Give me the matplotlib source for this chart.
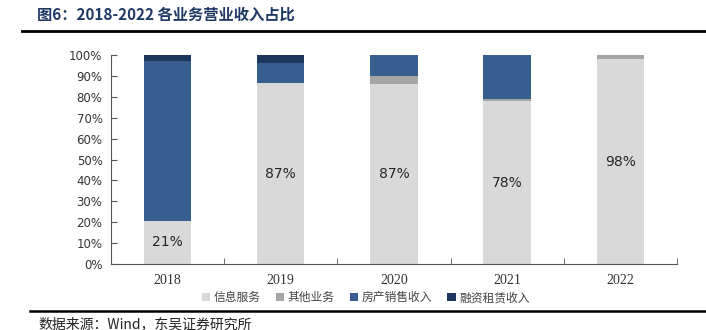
import matplotlib
matplotlib.use("Agg")
import matplotlib.pyplot as plt
from matplotlib.lines import Line2D
import numpy as np

plt.rcParams['font.family'] = ['Noto Sans CJK SC', 'DejaVu Sans']

years = ['2018', '2019', '2020', '2021', '2022']
series_names = ['信息服务', '其他业务', '房产销售收入', '融资租赁收入']
info_service = [20.6, 86.6, 86.3, 77.8, 98.0]
other_biz = [0.0, 0.0, 3.7, 1.3, 2.0]
property_sales = [76.4, 9.6, 10.0, 20.9, 0.0]
leasing = [3.0, 3.8, 0.0, 0.0, 0.0]
labels = ['21%', '87%', '87%', '78%', '98%']

colors = ['#D9D9D9', '#A5A5A5', '#375E8E', '#1C365C']

fig = plt.figure(figsize=(7.06, 3.30), dpi=100)
ax = fig.add_axes([0.157, 0.2, 0.802, 0.633])

x = np.arange(len(years))
bottom = np.zeros(len(years))
for name, vals, c in zip(series_names, [info_service, other_biz, property_sales, leasing], colors):
    ax.bar(x, vals, 0.42, bottom=bottom, color=c, label=name, zorder=2)
    bottom += np.array(vals)

for i, lab in enumerate(labels):
    ax.text(x[i], info_service[i] / 2, lab, ha='center', va='center',
            fontsize=10, color='#262626', family='DejaVu Sans')

ax.set_xlim(-0.5, len(years) - 0.5)
ax.set_ylim(0, 100)
ax.set_yticks(np.arange(0, 101, 10))
ax.set_yticklabels([f'{v}%' for v in range(0, 101, 10)], family='DejaVu Sans',
                   fontsize=8.5, color='#333333')
ax.set_xticks(x)
ax.set_xticklabels(years, family='Liberation Serif', fontsize=10, color='#333333')
ax.set_xticks(np.arange(-0.5, len(years)), minor=True)
ax.tick_params(axis='x', which='major', length=0, pad=7)
ax.tick_params(axis='x', which='minor', direction='in', length=4, color='#555555')
ax.tick_params(axis='y', direction='in', length=4, color='#555555', pad=6)
for s in ['top', 'right']:
    ax.spines[s].set_visible(False)
ax.spines['left'].set_color('#555555')
ax.spines['bottom'].set_color('#555555')

ax.legend(loc='upper center', bbox_to_anchor=(0.45, -0.08), ncol=4, frameon=False,
          fontsize=8.5, handlelength=0.7, handleheight=0.7, handletextpad=0.3,
          columnspacing=1.3, labelcolor='#444444')

fig.text(0.052, 0.955, '图6：2018-2022 各业务营业收入占比', fontsize=11, fontweight='bold',
         color='#1F3864', va='center', family=['Noto Sans CJK SC'])
fig.add_artist(Line2D([0.031, 1.0], [0.905, 0.905], color='black', lw=2))
fig.add_artist(Line2D([0.042, 1.0], [0.058, 0.058], color='black', lw=1.8))
fig.text(0.054, 0.018, '数据来源：Wind，东吴证券研究所', fontsize=10, color='#222222',
         va='center')

fig.savefig('out.png', dpi=100)
